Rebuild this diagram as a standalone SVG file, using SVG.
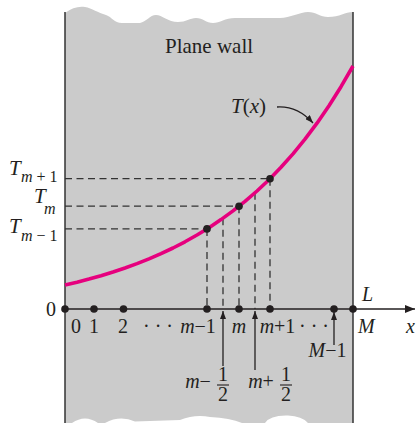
<svg xmlns="http://www.w3.org/2000/svg" width="416" height="423" viewBox="0 0 416 423">
<style>
text{font-family:"Liberation Serif","Times New Roman",serif;fill:#231f20}
.it{font-style:italic}
.lbl{font-size:20px}
.big{font-size:21px}
.sub{font-size:16px}
.dash{stroke:#333;stroke-width:1.3;stroke-dasharray:7 4.5;fill:none}
.ln{stroke:#231f20;stroke-width:1.3;fill:none}
.dot{fill:#231f20}
</style>
<defs>
<marker id="ah" viewBox="0 0 10 8" refX="10" refY="4" markerWidth="10" markerHeight="8" markerUnits="userSpaceOnUse" orient="auto">
<path d="M0,0 L10,4 L0,8 Z" fill="#231f20"/>
</marker>
<marker id="ahs" viewBox="0 0 8 6" refX="8" refY="3" markerWidth="8" markerHeight="6" markerUnits="userSpaceOnUse" orient="auto">
<path d="M0,0 L8,3 L0,6 Z" fill="#231f20"/>
</marker>
</defs>
<g id="wall">
<path d="M65,13 C72,8 78,6 85,7 C92,8 98,13 106,15 C112,17 114,23 122,23 L140,23 C146,22 150,15 156,15 C162,15 168,22 178,22 C186,22 190,18 196,18 C203,18 206,23 213,23 C220,23 225,18 235,18 L280,18 C290,18 300,12 308,12 C316,12 320,17 328,17 C340,17 345,12 353,12 L353,423 L65,423 Z" fill="#cbcbcb"/>
<path d="M72,423 Q85,414 98,423 Z M105,423 Q120,415 135,421.5 L180,420 Q195,414 210,417 Q230,418 242,423 Z M265,423 Q270,415 288,415.5 Q302,416 308,423 Z" fill="#fff"/>
<line x1="65" y1="12" x2="65" y2="423" stroke="#333" stroke-width="1.5"/>
<line x1="353" y1="12" x2="353" y2="423" stroke="#333" stroke-width="1.5"/>
<text x="165" y="53" style="font-size:21px">Plane wall</text>
</g>
<g id="connectors">
<line class="dash" x1="65" y1="178.7" x2="270" y2="178.7"/>
<line class="dash" x1="65" y1="206.2" x2="239" y2="206.2"/>
<line class="dash" x1="65" y1="228.9" x2="207" y2="228.9"/>
<line class="dash" x1="207" y1="228.9" x2="207" y2="309"/>
<line class="dash" x1="223" y1="218.3" x2="223" y2="309"/>
<line class="dash" x1="239" y1="206.2" x2="239" y2="309"/>
<line class="dash" x1="255" y1="192.8" x2="255" y2="309"/>
<line class="dash" x1="270" y1="178.7" x2="270" y2="309"/>
<line class="ln" x1="65" y1="309" x2="415" y2="309" marker-end="url(#ah)"/>
<line class="ln" x1="223" y1="366" x2="223" y2="311" marker-end="url(#ahs)"/>
<line class="ln" x1="255" y1="370" x2="255" y2="311" marker-end="url(#ahs)"/>
<line class="ln" x1="334" y1="345" x2="334" y2="312" marker-end="url(#ahs)"/>
<path class="ln" d="M277,107 C292,106 303,112 313,123" stroke-width="1.1" marker-end="url(#ahs)"/>
</g>
<g id="curve">
<path d="M65,285 L77,282.2 L89,279.1 L101,275.7 L113,272 L125,268 L137,263.6 L149,258.8 L161,253.6 L173,248 L185,241.8 L197,235 L209,227.7 L221,219.6 L233,210.9 L245,201.4 L257,191 L269,179.7 L281,167.3 L293,153.9 L305,139.2 L317,123.2 L329,105.7 L341,86.7 L353,66" fill="none" stroke="#e6007e" stroke-width="3.6" stroke-linejoin="round"/>
<text x="231" y="113" class="big"><tspan class="it">T</tspan>(<tspan class="it">x</tspan>)</text>
</g>
<g id="nodes">
<circle class="dot" cx="65" cy="309" r="3.8"/>
<circle class="dot" cx="94" cy="309" r="3.8"/>
<circle class="dot" cx="123.5" cy="309" r="3.8"/>
<circle class="dot" cx="207" cy="309" r="3.8"/>
<circle class="dot" cx="239" cy="309" r="3.8"/>
<circle class="dot" cx="270" cy="309" r="3.8"/>
<circle class="dot" cx="334" cy="309" r="3.8"/>
<circle class="dot" cx="353" cy="309" r="3.8"/>
<circle class="dot" cx="207" cy="228.9" r="3.8"/>
<circle class="dot" cx="239" cy="206.2" r="3.8"/>
<circle class="dot" cx="270" cy="178.7" r="3.8"/>
</g>
<g id="labels">
<text x="9" y="175" class="big it">T</text>
<text x="21" y="182" class="sub"><tspan class="it">m</tspan> + 1</text>
<text x="34" y="203" class="big it">T</text>
<text x="44" y="214" class="sub it">m</text>
<text x="9" y="233" class="big it">T</text>
<text x="21" y="241" class="sub"><tspan class="it">m</tspan> − 1</text>
<text x="51" y="316" class="lbl" text-anchor="middle">0</text>
<text x="76" y="333" class="lbl" text-anchor="middle">0</text>
<text x="94" y="333" class="lbl" text-anchor="middle">1</text>
<text x="123" y="333" class="lbl" text-anchor="middle">2</text>
<text x="158" y="333" class="lbl" text-anchor="middle">· · ·</text>
<text x="198" y="333" class="lbl" text-anchor="middle"><tspan class="it">m</tspan>−1</text>
<text x="239" y="333" class="lbl it" text-anchor="middle">m</text>
<text x="277.5" y="333" class="lbl" text-anchor="middle"><tspan class="it">m</tspan>+1</text>
<text x="314" y="333" class="lbl" text-anchor="middle">· · ·</text>
<text x="358" y="333" class="lbl it">M</text>
<text x="406" y="333" class="lbl it">x</text>
<text x="362" y="301" class="lbl it">L</text>
<text x="327.5" y="357" class="lbl" text-anchor="middle"><tspan class="it">M</tspan>−1</text>
<text x="198" y="388" class="lbl" text-anchor="middle"><tspan class="it">m</tspan>−</text>
<text x="223" y="381" class="lbl" text-anchor="middle">1</text>
<line x1="217" y1="385" x2="229" y2="385" stroke="#231f20" stroke-width="1.1"/>
<text x="223" y="401" class="lbl" text-anchor="middle">2</text>
<text x="261" y="388" class="lbl" text-anchor="middle"><tspan class="it">m</tspan>+</text>
<text x="286" y="381" class="lbl" text-anchor="middle">1</text>
<line x1="280" y1="385" x2="292" y2="385" stroke="#231f20" stroke-width="1.1"/>
<text x="286" y="401" class="lbl" text-anchor="middle">2</text>
</g>
</svg>
